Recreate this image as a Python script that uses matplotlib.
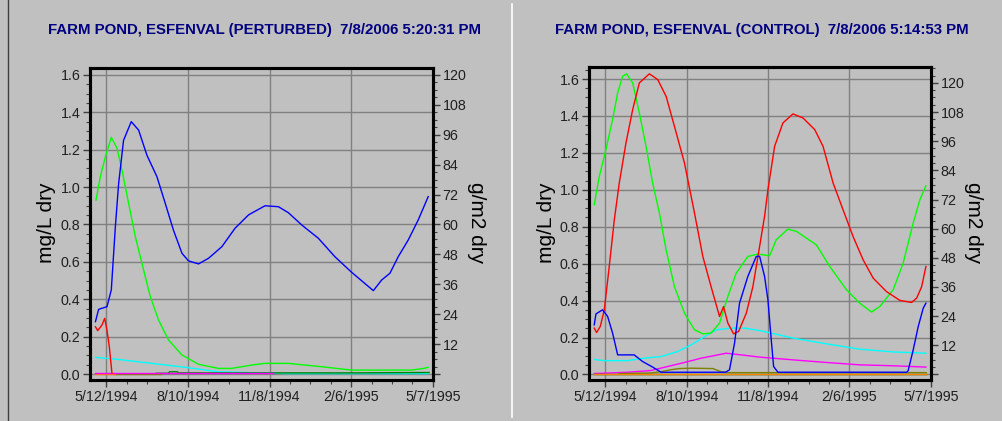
import datetime as dt

import matplotlib
matplotlib.use('Agg')
import matplotlib.pyplot as plt
import matplotlib.dates as mdates
from matplotlib.ticker import MultipleLocator, FuncFormatter, FixedLocator
from matplotlib.lines import Line2D
import numpy as np

plt.rcParams['font.family'] = ['Liberation Sans', 'DejaVu Sans']

start = dt.date(1994, 5, 12)
titles = ['FARM POND, ESFENVAL (PERTURBED)  7/8/2006 5:20:31 PM',
          'FARM POND, ESFENVAL (CONTROL)  7/8/2006 5:14:53 PM']
major_days = [0, 90, 180, 270, 360]

# ---- perturbed run (days after 5/12/1994, mg/L) ----
p_blue_d = [-12, -8.5, 0.7, 5.5, 10, 13.6, 19, 27.5, 35.6, 44.8, 55.8, 65, 74, 83.4, 90.7,
            101.7, 112.7, 127.4, 142, 156.8, 175, 189.8, 200.8, 215.6, 233.9, 252, 270.6,
            285, 294.5, 303.7, 312.8, 322, 333, 344, 355]
p_blue_v = [0.28, 0.346, 0.36, 0.45, 0.79, 1.02, 1.25, 1.35, 1.305, 1.17, 1.056, 0.913, 0.77,
            0.646, 0.605, 0.589, 0.619, 0.681, 0.78, 0.851, 0.90, 0.895, 0.863, 0.797, 0.726,
            0.628, 0.544, 0.485, 0.446, 0.503, 0.539, 0.628, 0.717, 0.824, 0.949]
p_green_d = [-11.4, -6.6, -1, 5.5, 11.8, 17.3, 24.6, 32, 39.3, 48.5, 57.6, 68.6, 83.4, 101.7,
             123.7, 138, 160.5, 175, 200.8, 219, 237.6, 270.6, 336.6, 350, 355]
p_green_v = [0.93, 1.056, 1.163, 1.266, 1.208, 1.09, 0.913, 0.735, 0.592, 0.414, 0.289, 0.182,
             0.102, 0.052, 0.030, 0.030, 0.048, 0.057, 0.057, 0.048, 0.039, 0.021, 0.021,
             0.030, 0.036]
p_red_d = [-12, -9.5, -4.8, -1.8, 0.7, 3.3, 6.2]
p_red_v = [0.253, 0.232, 0.262, 0.298, 0.235, 0.146, 0.004]
p_cyan_d = [-12, 13.6, 50, 87, 123.7, 184, 200, 355]
p_cyan_v = [0.089, 0.078, 0.057, 0.036, 0.012, 0.004, 0.002, 0.002]
p_magenta_d = [-12, 184]
p_magenta_v = [0.006, 0.006]
p_orange_d = [-12, 10]
p_orange_v = [0.001, 0.001]
p_olive_d = [10, 60]
p_olive_v = [0.002, 0.002]
p_dkgreen_d = [55, 68, 70, 78, 80, 101, 240, 275, 350, 356]
p_dkgreen_v = [0.004, 0.004, 0.012, 0.012, 0.006, 0.006, 0.006, 0.006, 0.008, 0.008]

# ---- control run ----
c_green_d = [-12.2, -6.6, 0.7, 8.1, 13.7, 19.2, 23.6, 30.3, 37.7, 45.1, 52.4, 59.9, 67.3, 76.5,
             87.6, 98.7, 107.9, 117, 126.4, 135.6, 144.9, 157.7, 168.8, 181.8, 189.2, 202,
             211.4, 233.5, 248.3, 266.8, 281.5, 294.5, 303.7, 318.5, 329.5, 340.6, 348, 354.7]
c_green_v = [0.919, 1.073, 1.217, 1.38, 1.525, 1.615, 1.628, 1.579, 1.416, 1.235, 1.037, 0.874,
             0.675, 0.476, 0.332, 0.242, 0.220, 0.224, 0.278, 0.422, 0.549, 0.639, 0.652,
             0.643, 0.730, 0.787, 0.775, 0.702, 0.585, 0.459, 0.386, 0.338, 0.368, 0.459,
             0.603, 0.820, 0.946, 1.022]
c_red_d = [-12.2, -9.6, -5.5, -1.1, 4.4, 10, 15.5, 22.9, 30.3, 37.7, 48.8, 58, 67.3, 76.5,
           87.6, 98.7, 107.9, 117, 126.4, 130.8, 135.6, 141.9, 147.5, 156, 163.3, 170.7,
           176.2, 179.9, 187.3, 196.5, 207.6, 218.7, 231.7, 240.9, 252, 263, 274.1, 285.2,
           296.3, 311, 325.9, 338.8, 344.4, 350, 354.7]
c_red_v = [0.251, 0.227, 0.26, 0.35, 0.585, 0.838, 1.037, 1.254, 1.434, 1.579, 1.628, 1.597,
           1.506, 1.344, 1.145, 0.874, 0.639, 0.476, 0.314, 0.368, 0.278, 0.220, 0.233,
           0.332, 0.476, 0.693, 0.856, 1.0, 1.235, 1.362, 1.411, 1.389, 1.326, 1.235, 1.037,
           0.892, 0.747, 0.621, 0.522, 0.449, 0.401, 0.390, 0.413, 0.476, 0.585]
c_blue_d = [-12.2, -10.3, -3, 2.6, 8.1, 13.7, 21, 32, 41.3, 52.4, 61.7, 133, 137.4, 143,
            148.5, 157.7, 167, 170.7, 176.2, 179.9, 183.6, 186.2, 191, 333.3, 335, 340.6,
            346.2, 351.7, 354.7]
c_blue_v = [0.269, 0.328, 0.35, 0.314, 0.224, 0.106, 0.106, 0.106, 0.07, 0.04, 0.012, 0.012,
            0.025, 0.17, 0.386, 0.531, 0.639, 0.64, 0.531, 0.404, 0.188, 0.043, 0.012, 0.012,
            0.02, 0.133, 0.26, 0.359, 0.386]
c_cyan_d = [-12, -1, 24.7, 43, 61.7, 80, 95, 109.7, 122.7, 139.3, 154, 170.7, 207.6, 244.6,
            281.5, 318.5, 354.7]
c_cyan_v = [0.081, 0.075, 0.075, 0.088, 0.097, 0.124, 0.16, 0.205, 0.242, 0.251, 0.251,
            0.238, 0.197, 0.166, 0.137, 0.122, 0.115]
c_magenta_d = [-12, 24.7, 50, 69, 87.6, 106, 124.5, 133.8, 150.4, 170.7, 207.6, 244.6, 281.5,
               318.5, 354.7]
c_magenta_v = [0.005, 0.012, 0.021, 0.043, 0.065, 0.088, 0.106, 0.115, 0.106, 0.094, 0.079,
               0.065, 0.052, 0.047, 0.040]
c_olive_d = [15, 50, 61.7, 72, 82, 95, 119, 128, 136, 355]
c_olive_v = [0.005, 0.008, 0.015, 0.025, 0.032, 0.034, 0.032, 0.015, 0.010, 0.010]
c_dkgreen_d = [-12, 355]
c_dkgreen_v = [0.005, 0.005]
c_orange_d = [-12, 355]
c_orange_v = [0.001, 0.001]

perturbed = [(p_cyan_d, p_cyan_v, '#00ffff'), (p_olive_d, p_olive_v, '#808000'),
             (p_dkgreen_d, p_dkgreen_v, '#008000'), (p_orange_d, p_orange_v, '#ff8000'),
             (p_magenta_d, p_magenta_v, '#ff00ff'), (p_green_d, p_green_v, '#00ff00'),
             (p_red_d, p_red_v, '#ff0000'), (p_blue_d, p_blue_v, '#0000ff')]
control = [(c_cyan_d, c_cyan_v, '#00ffff'), (c_magenta_d, c_magenta_v, '#ff00ff'),
           (c_olive_d, c_olive_v, '#808000'), (c_dkgreen_d, c_dkgreen_v, '#008000'),
           (c_orange_d, c_orange_v, '#ff8000'), (c_green_d, c_green_v, '#00ff00'),
           (c_red_d, c_red_v, '#ff0000'), (c_blue_d, c_blue_v, '#0000ff')]

t0 = mdates.date2num(start)


def datefmt(x, pos):
    d = mdates.num2date(x)
    return '%d/%d/%d' % (d.month, d.day, d.year)


W, H = 1003, 421
fig = plt.figure(figsize=(W / 100, H / 100), dpi=100, facecolor='#c0c0c0')

# panel frames
fig.add_artist(Line2D([8 / W, 8 / W], [0, 1], color='#404040', lw=1.0))
fig.add_artist(Line2D([512 / W, 512 / W], [4 / H, 1 - 4 / H], color='white', lw=1.2))

panels = [
    dict(rect=[90, 68, 433, 380], ylim=(-0.032, 1.637), scale=75.0, series=perturbed,
         title_x=264, ylab_x=47, ylab2_x=477),
    dict(rect=[589, 67, 931, 380], ylim=(-0.030, 1.665), scale=76.0, series=control,
         title_x=762, ylab_x=547, ylab2_x=973),
]

for p, title in zip(panels, titles):
    x0, y0, x1, y1 = p['rect']
    ax = fig.add_axes([x0 / W, 1 - y1 / H, (x1 - x0) / W, (y1 - y0) / H])
    ax.set_facecolor('#c0c0c0')
    for d, v, c in p['series']:
        ax.plot(t0 + np.array(d), v, color=c, lw=1.0)
    ax.set_xlim(t0 - 18, t0 + 360.3)
    ax.set_ylim(*p['ylim'])
    ax.xaxis.set_major_locator(FixedLocator([t0 + d for d in major_days]))
    ax.xaxis.set_minor_locator(FixedLocator([t0 + 22.5 * k for k in range(1, 16)]))
    ax.xaxis.set_major_formatter(FuncFormatter(datefmt))
    ax.yaxis.set_major_locator(MultipleLocator(0.2))
    ax.yaxis.set_minor_locator(MultipleLocator(0.05))
    ax.yaxis.set_major_formatter(FuncFormatter(lambda y, pos: '%.1f' % y))
    ax.grid(True, which='major', color='#808080', lw=1.0)
    ax.set_axisbelow(True)
    for s in ax.spines.values():
        s.set_linewidth(2.2)
        s.set_color('black')
    ax.tick_params(which='major', length=5, width=1, color='#404040', labelsize=10.3,
                   labelcolor='#202020', pad=2)
    ax.tick_params(which='minor', length=3, width=0.8, color='#404040')

    ax2 = ax.twinx()
    ax2.set_ylim(p['ylim'][0] * p['scale'], p['ylim'][1] * p['scale'])
    ax2.yaxis.set_major_locator(MultipleLocator(12))
    ax2.yaxis.set_minor_locator(MultipleLocator(3))
    ax2.yaxis.set_major_formatter(FuncFormatter(lambda y, pos: '' if y < 1 else '%d' % y))
    ax2.tick_params(which='major', length=5, width=1, color='#404040', labelsize=10.3,
                    labelcolor='#202020', pad=2)
    ax2.tick_params(which='minor', length=3, width=0.8, color='#404040')
    for s in ax2.spines.values():
        s.set_linewidth(2.2)

    fig.text(p['title_x'] / W, 1 - 30 / H, title, ha='center', va='center',
             color='#000080', fontsize=10.8, fontweight='bold')
    fig.text(p['ylab_x'] / W, 1 - 223 / H, 'mg/L dry', rotation=90, ha='center',
             va='center', fontsize=15, color='black')
    fig.text(p['ylab2_x'] / W, 1 - 223 / H, 'g/m2 dry', rotation=270, ha='center',
             va='center', fontsize=15, color='black')

fig.savefig('out.png', dpi=100, facecolor=fig.get_facecolor())
